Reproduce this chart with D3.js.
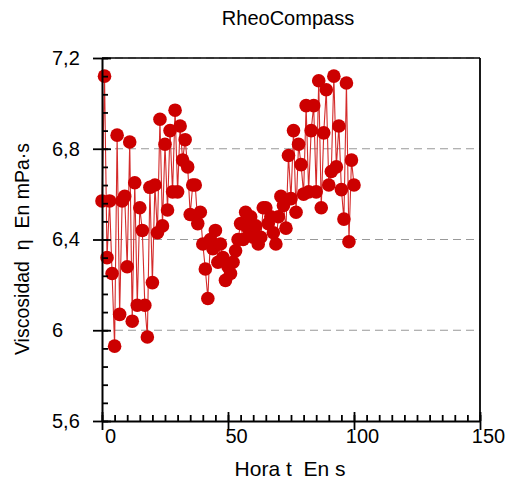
<!DOCTYPE html>
<html>
<head>
<meta charset="utf-8">
<script src="https://cdn.jsdelivr.net/npm/d3@7"></script>
<style>
  html, body { margin: 0; padding: 0; background: #fff; }
  svg { display: block; font-family: "Liberation Sans", Arial, sans-serif; }
  text { white-space: pre; }
</style>
</head>
<body>
<svg id="chart" width="509" height="488"></svg>
<script>
const title = "RheoCompass";
const xLabel = "Hora t  En s";
const yLabel = "Viscosidad  η  En mPa·s";

const xTicks = [0, 50, 100, 150];
const xTickLabels = ["0", "50", "100", "150"];
const yTicks = [5.6, 6.0, 6.4, 6.8, 7.2];
const yTickLabels = ["5,6", "6", "6,4", "6,8", "7,2"];
const gridValues = [6.0, 6.4, 6.8, 7.2];

const times = [
  0, 1, 2, 3, 4, 5, 6, 7, 8, 9,
  10, 11, 12, 13, 14, 15, 16, 17, 18, 19,
  20, 21, 22, 23, 24, 25, 26, 27, 28, 29,
  30, 31, 32, 33, 34, 35, 36, 37, 38, 39,
  40, 41, 42, 43, 44, 45, 46, 47, 48, 49,
  50, 51, 52, 53, 54, 55, 56, 57, 58, 59,
  60, 61, 62, 63, 64, 65, 66, 67, 68, 69,
  70, 71, 72, 73, 74, 75, 76, 77, 78, 79,
  80, 81, 82, 83, 84, 85, 86, 87, 88, 89,
  90, 91, 92, 93, 94, 95, 96, 97, 98, 99, 100
];
const viscosity = [
  6.57, 7.12, 6.32, 6.57, 6.25, 5.93, 6.86, 6.07, 6.57, 6.59,
  6.28, 6.83, 6.04, 6.65, 6.11, 6.54, 6.44, 6.11, 5.97, 6.63,
  6.21, 6.64, 6.43, 6.93, 6.46, 6.82, 6.53, 6.88, 6.61, 6.97,
  6.61, 6.90, 6.75, 6.84, 6.72, 6.51, 6.64, 6.64, 6.47, 6.52,
  6.38, 6.27, 6.14, 6.40, 6.36, 6.44, 6.30, 6.38, 6.32, 6.22,
  6.28, 6.25, 6.30, 6.35, 6.40, 6.47, 6.40, 6.52, 6.45, 6.50,
  6.41, 6.46, 6.38, 6.41, 6.54, 6.54, 6.47, 6.50, 6.43, 6.38,
  6.50, 6.59, 6.55, 6.45, 6.77, 6.58, 6.88, 6.52, 6.82, 6.73,
  6.60, 6.99, 6.61, 6.88, 6.99, 6.61, 7.10, 6.54, 6.87, 7.06,
  6.64, 6.70, 7.12, 6.72, 6.90, 6.62, 6.49, 7.09, 6.39, 6.75, 6.64
];

const data = times.map((t, i) => ({ t, v: viscosity[i] }));

const svg = d3.select("#chart");
const pLeft = 102, pRight = 480, pTop = 58, pBottom = 421;

const x = d3.scaleLinear().domain([0, 150]).range([pLeft, pRight]);
const y = d3.scaleLinear().domain([5.6, 7.2]).range([pBottom, pTop]);

// gridlines
svg.append("g").selectAll("line").data(gridValues).join("line")
  .attr("x1", pLeft).attr("x2", pRight)
  .attr("y1", d => y(d)).attr("y2", d => y(d))
  .attr("stroke", "#999").attr("stroke-width", 1.2)
  .attr("stroke-dasharray", "8,5");

// data line
const line = d3.line().x(d => x(d.t)).y(d => y(d.v));
svg.append("path").datum(data)
  .attr("d", line)
  .attr("fill", "none")
  .attr("stroke", "#d42a2a")
  .attr("stroke-width", 1.1);

// markers
svg.append("g").selectAll("circle").data(data).join("circle")
  .attr("cx", d => x(d.t)).attr("cy", d => y(d.v))
  .attr("r", 6.8)
  .attr("fill", "#cc0000");

// box (top & right)
svg.append("line").attr("x1", pLeft).attr("x2", pRight).attr("y1", pTop).attr("y2", pTop)
  .attr("stroke", "#000").attr("stroke-width", 1.5);
svg.append("line").attr("x1", pRight).attr("x2", pRight).attr("y1", pTop).attr("y2", pBottom)
  .attr("stroke", "#000").attr("stroke-width", 1.8);

function styleAxis(g) {
  g.selectAll("path").attr("stroke", "#000").attr("stroke-width", 2);
  g.selectAll("line").attr("stroke", "#000").attr("stroke-width", 1.8);
}

const xMinor = d3.range(0, 151, 5);
const yMinor = d3.range(0, 21).map(i => 5.6 + i * 0.08);

// x axis: outer major ticks + labels
const xAxisG = svg.append("g").attr("transform", `translate(0,${pBottom})`)
  .call(d3.axisBottom(x).tickValues(xTicks).tickSize(9).tickSizeOuter(0)
    .tickFormat((d, i) => xTickLabels[i]));
styleAxis(xAxisG);
xAxisG.selectAll("text")
  .attr("font-size", 20).attr("fill", "#000")
  .attr("font-family", "Liberation Sans, Arial, sans-serif")
  .attr("dx", 8).attr("dy", 10);
// x inner ticks
const xInMajor = svg.append("g").attr("transform", `translate(0,${pBottom})`)
  .call(d3.axisTop(x).tickValues(xTicks).tickSize(9).tickSizeOuter(0).tickFormat(""));
styleAxis(xInMajor); xInMajor.select("path").remove();
const xInMinor = svg.append("g").attr("transform", `translate(0,${pBottom})`)
  .call(d3.axisTop(x).tickValues(xMinor).tickSize(6).tickSizeOuter(0).tickFormat(""));
styleAxis(xInMinor); xInMinor.select("path").remove();

// y axis
const yAxisG = svg.append("g").attr("transform", `translate(${pLeft},0)`)
  .call(d3.axisLeft(y).tickValues(yTicks).tickSize(9).tickSizeOuter(0)
    .tickFormat((d, i) => yTickLabels[i]));
styleAxis(yAxisG);
yAxisG.selectAll("text")
  .attr("font-size", 20).attr("fill", "#000")
  .attr("font-family", "Liberation Sans, Arial, sans-serif")
  .attr("text-anchor", "start")
  .attr("x", 52 - pLeft);
const yInMajor = svg.append("g").attr("transform", `translate(${pLeft},0)`)
  .call(d3.axisRight(y).tickValues(yTicks).tickSize(9).tickSizeOuter(0).tickFormat(""));
styleAxis(yInMajor); yInMajor.select("path").remove();
const yInMinor = svg.append("g").attr("transform", `translate(${pLeft},0)`)
  .call(d3.axisRight(y).tickValues(yMinor).tickSize(6).tickSizeOuter(0).tickFormat(""));
styleAxis(yInMinor); yInMinor.select("path").remove();

// title and labels
svg.append("text").attr("x", 288).attr("y", 25)
  .attr("text-anchor", "middle").attr("font-size", 20).attr("fill", "#000")
  .text(title);
svg.append("text").attr("x", 290).attr("y", 476)
  .attr("text-anchor", "middle").attr("font-size", 21).attr("fill", "#000")
  .text(xLabel);
svg.append("text")
  .attr("transform", "translate(29,249) rotate(-90)")
  .attr("text-anchor", "middle").attr("font-size", 19.5).attr("fill", "#000")
  .text(yLabel);
</script>
</body>
</html>
